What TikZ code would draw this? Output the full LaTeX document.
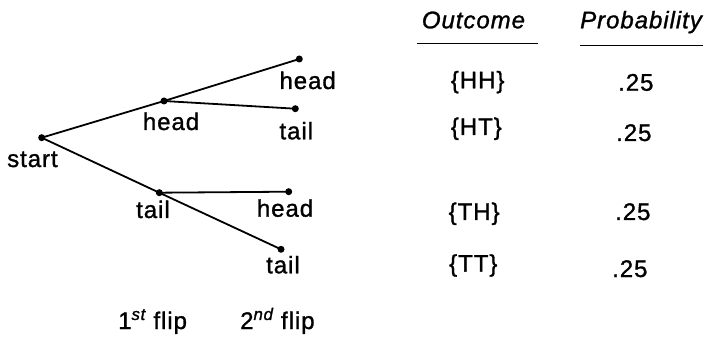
\documentclass[tikz,border=0pt]{standalone}
\usepackage{fontspec}
\setmainfont{Liberation Sans}[LetterSpace=4,FakeBold=1.2]
\begin{document}
\begin{tikzpicture}[x=1pt,y=-1pt,
  dot/.style={circle,fill=black,inner sep=0pt,minimum size=7pt},
  lbl/.style={inner sep=0pt,anchor=base west,font=\fontsize{24}{26}\selectfont},
  ilbl/.style={lbl,font=\fontsize{24}{26}\selectfont\itshape},
  edge/.style={line width=1.8pt},
  rule/.style={line width=1.5pt}]
\useasboundingbox (0,0) rectangle (704,339);
% tree points
\node[dot] (s) at (41.7,137.7) {};
\node[dot] (h1) at (164,101) {};
\node[dot] (t1) at (159.3,192.7) {};
\node[dot] (hh) at (299.3,59) {};
\node[dot] (ht) at (295.3,108.7) {};
\node[dot] (th) at (288.7,191.7) {};
\node[dot] (tt) at (281,249.3) {};
\draw[edge] (s.center) -- (h1.center) -- (hh.center);
\draw[edge] (h1.center) -- (ht.center);
\draw[edge] (s.center) -- (t1.center) -- (tt.center);
\draw[edge] (t1.center) -- (th.center);
% tree labels
\node[lbl] (ls) at (7,167) {start};
\node[lbl] (lh1) at (142.7,130) {head};
\node[lbl] (lt1) at (136,218) {tail};
\node[lbl] (lhh) at (279.3,89) {head};
\node[lbl] (lht) at (279.3,139.3) {tail};
\node[lbl] (lth) at (256.7,216.7) {head};
\node[lbl] (ltt) at (266,273.3) {tail};
% table
\node[ilbl] (oc) at (421.7,28.3) {Outcome};
\node[ilbl] (pr) at (580,28.3) {Probability};
\coordinate (oul) at (416.7,43.3);
\coordinate (our) at (538,43.3);
\coordinate (pul) at (580,45.7);
\coordinate (pur) at (703,45.7);
\draw[rule] (oul) -- (our);
\draw[rule] (pul) -- (pur);
\node[lbl] (o1) at (450.7,88.3) {\{HH\}};
\node[lbl] (o2) at (450.7,135) {\{HT\}};
\node[lbl] (o3) at (448.5,220) {\{TH\}};
\node[lbl] (o4) at (449,271.7) {\{TT\}};
\node[lbl] (p1) at (618,90.7) {.25};
\node[lbl] (p2) at (616,141) {.25};
\node[lbl] (p3) at (615,220) {.25};
\node[lbl] (p4) at (612,277) {.25};
% flips
\node[lbl] (f1) at (118,329) {1\textsuperscript{\itshape st} flip};
\node[lbl] (f2) at (240,329) {2\textsuperscript{\itshape nd} flip};
\end{tikzpicture}
\end{document}
